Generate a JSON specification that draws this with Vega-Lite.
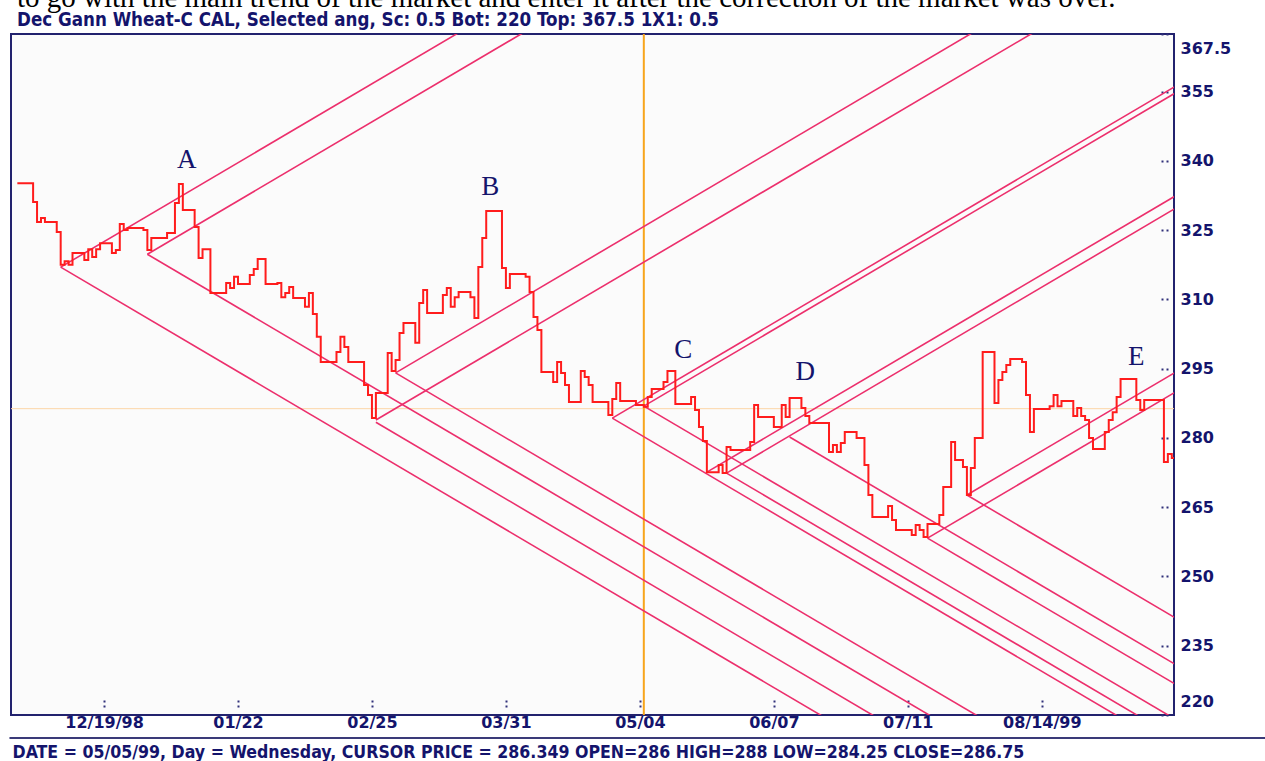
{
  "$schema": "https://vega.github.io/schema/vega-lite/v6.json",
  "width": 1163,
  "height": 681,
  "autosize": {"type": "none"},
  "padding": {"left": 11, "top": 34, "right": 91, "bottom": 46},
  "background": "#ffffff",
  "config": {
    "view": {"fill": "#fbfbfb", "stroke": "#22226e", "strokeWidth": 2}
  },
  "title": {
    "text": "to go with the main trend of the market and enter it after the correction of the market was over.",
    "subtitle": "Dec Gann Wheat-C CAL, Selected ang, Sc: 0.5 Bot: 220 Top: 367.5 1X1: 0.5",
    "anchor": "start",
    "frame": "group",
    "orient": "top",
    "font": "Liberation Serif",
    "fontSize": 29,
    "fontWeight": "normal",
    "color": "#000000",
    "subtitleFont": "Liberation Sans Narrow, DejaVu Sans Condensed, sans-serif",
    "subtitleFontSize": 18.6,
    "subtitleFontWeight": "bold",
    "subtitleColor": "#14146c",
    "subtitlePadding": -2,
    "offset": 3,
    "dx": 6
  },
  "datasets": {
    "price": [
      {"date":"1998-11-27","price":335.2},{"date":"1998-12-01","price":331.1},{"date":"1998-12-02","price":326.8},{"date":"1998-12-03","price":327.65},{"date":"1998-12-04","price":326.8},{"date":"1998-12-07","price":324.6},{"date":"1998-12-08","price":317.5},{"date":"1998-12-09","price":318.3},{"date":"1998-12-10","price":317.5},{"date":"1998-12-11","price":320.05},{"date":"1998-12-14","price":318.55},{"date":"1998-12-15","price":320.9},{"date":"1998-12-16","price":319.2},{"date":"1998-12-17","price":320.9},{"date":"1998-12-18","price":322.2},{"date":"1998-12-21","price":320.05},{"date":"1998-12-22","price":320.7},{"date":"1998-12-23","price":326.35},{"date":"1998-12-24","price":325.05},{"date":"1998-12-25","price":325.5},{"date":"1998-12-29","price":325.05},{"date":"1998-12-30","price":320.7},{"date":"1998-12-31","price":323.3},
      {"date":"1999-01-04","price":324.4},{"date":"1999-01-06","price":330.9},{"date":"1999-01-07","price":335.0},{"date":"1999-01-08","price":329.4},{"date":"1999-01-11","price":325.7},{"date":"1999-01-12","price":319.0},{"date":"1999-01-13","price":320.9},{"date":"1999-01-15","price":311.4},{"date":"1999-01-19","price":313.55},{"date":"1999-01-20","price":312.5},{"date":"1999-01-21","price":314.9},{"date":"1999-01-22","price":313.35},{"date":"1999-01-25","price":315.3},{"date":"1999-01-26","price":316.6},{"date":"1999-01-27","price":318.75},{"date":"1999-01-29","price":313.35},
      {"date":"1999-02-01","price":313.55},{"date":"1999-02-02","price":310.5},{"date":"1999-02-03","price":311.4},{"date":"1999-02-04","price":312.7},{"date":"1999-02-05","price":310.3},{"date":"1999-02-08","price":308.4},{"date":"1999-02-09","price":311.4},{"date":"1999-02-10","price":306.85},{"date":"1999-02-11","price":301.9},{"date":"1999-02-12","price":296.45},{"date":"1999-02-16","price":298.6},{"date":"1999-02-17","price":301.9},{"date":"1999-02-18","price":299.7},{"date":"1999-02-19","price":296.45},{"date":"1999-02-23","price":291.5},{"date":"1999-02-24","price":289.3},{"date":"1999-02-25","price":284.35},{"date":"1999-02-26","price":289.75},
      {"date":"1999-03-01","price":298.4},{"date":"1999-03-02","price":294.5},{"date":"1999-03-03","price":296.9},{"date":"1999-03-04","price":302.75},{"date":"1999-03-05","price":304.9},{"date":"1999-03-08","price":300.6},{"date":"1999-03-09","price":309.25},{"date":"1999-03-10","price":312.05},{"date":"1999-03-11","price":307.05},{"date":"1999-03-15","price":310.95},{"date":"1999-03-16","price":312.5},{"date":"1999-03-17","price":308.4},{"date":"1999-03-18","price":310.5},{"date":"1999-03-19","price":311.6},{"date":"1999-03-22","price":310.5},{"date":"1999-03-23","price":306.0},{"date":"1999-03-24","price":317.05},{"date":"1999-03-25","price":323.3},{"date":"1999-03-26","price":329.15},{"date":"1999-03-30","price":316.8},{"date":"1999-03-31","price":312.5},
      {"date":"1999-04-01","price":315.5},{"date":"1999-04-05","price":314.9},{"date":"1999-04-06","price":311.6},{"date":"1999-04-07","price":306.2},{"date":"1999-04-08","price":303.4},{"date":"1999-04-09","price":294.3},{"date":"1999-04-12","price":292.1},{"date":"1999-04-13","price":296.45},{"date":"1999-04-14","price":294.1},{"date":"1999-04-15","price":291.5},{"date":"1999-04-16","price":287.8},{"date":"1999-04-19","price":294.5},{"date":"1999-04-20","price":293.2},{"date":"1999-04-21","price":291.5},{"date":"1999-04-22","price":287.8},{"date":"1999-04-26","price":285.0},{"date":"1999-04-27","price":288.45},{"date":"1999-04-28","price":291.9},{"date":"1999-04-29","price":288.0},
      {"date":"1999-05-03","price":287.15},{"date":"1999-05-05","price":286.75},{"date":"1999-05-06","price":288.9},{"date":"1999-05-07","price":290.6},{"date":"1999-05-10","price":292.1},{"date":"1999-05-11","price":294.5},{"date":"1999-05-13","price":287.35},{"date":"1999-05-17","price":288.9},{"date":"1999-05-18","price":286.05},{"date":"1999-05-19","price":282.4},{"date":"1999-05-20","price":279.35},{"date":"1999-05-21","price":272.6},{"date":"1999-05-24","price":274.15},{"date":"1999-05-25","price":272.4},{"date":"1999-05-26","price":278.05},{"date":"1999-05-27","price":277.4},
      {"date":"1999-06-01","price":279.15},{"date":"1999-06-02","price":287.15},{"date":"1999-06-03","price":284.55},{"date":"1999-06-07","price":282.4},{"date":"1999-06-09","price":287.15},{"date":"1999-06-10","price":284.55},{"date":"1999-06-11","price":288.65},{"date":"1999-06-14","price":286.5},{"date":"1999-06-15","price":284.75},{"date":"1999-06-16","price":283.25},{"date":"1999-06-21","price":276.95},{"date":"1999-06-22","price":278.5},{"date":"1999-06-23","price":276.95},{"date":"1999-06-24","price":278.9},{"date":"1999-06-25","price":281.3},{"date":"1999-06-28","price":280.0},{"date":"1999-06-30","price":274.15},
      {"date":"1999-07-01","price":267.65},{"date":"1999-07-02","price":262.9},{"date":"1999-07-06","price":265.25},{"date":"1999-07-07","price":262.25},{"date":"1999-07-08","price":260.05},{"date":"1999-07-12","price":259.0},{"date":"1999-07-13","price":261.15},{"date":"1999-07-14","price":260.05},{"date":"1999-07-15","price":258.55},{"date":"1999-07-16","price":261.35},{"date":"1999-07-19","price":263.3},{"date":"1999-07-20","price":269.4},{"date":"1999-07-22","price":279.15},{"date":"1999-07-23","price":275.25},{"date":"1999-07-25","price":273.7},{"date":"1999-07-26","price":267.65},{"date":"1999-07-27","price":273.5},{"date":"1999-07-28","price":280.0},{"date":"1999-07-30","price":298.6},
      {"date":"1999-08-02","price":287.6},{"date":"1999-08-03","price":292.55},{"date":"1999-08-04","price":294.3},{"date":"1999-08-05","price":295.8},{"date":"1999-08-06","price":297.1},{"date":"1999-08-09","price":296.45},{"date":"1999-08-10","price":289.3},{"date":"1999-08-11","price":281.3},{"date":"1999-08-12","price":286.3},{"date":"1999-08-16","price":286.9},{"date":"1999-08-17","price":289.3},{"date":"1999-08-18","price":286.9},{"date":"1999-08-19","price":288.0},{"date":"1999-08-22","price":284.75},{"date":"1999-08-23","price":286.5},{"date":"1999-08-24","price":284.75},{"date":"1999-08-25","price":283.9},{"date":"1999-08-26","price":280.0},{"date":"1999-08-27","price":277.6},{"date":"1999-08-30","price":281.3},{"date":"1999-08-31","price":283.9},
      {"date":"1999-09-01","price":285.6},{"date":"1999-09-02","price":288.9},{"date":"1999-09-03","price":292.8},{"date":"1999-09-07","price":288.2},{"date":"1999-09-08","price":286.05},{"date":"1999-09-09","price":288.2},{"date":"1999-09-14","price":274.8},{"date":"1999-09-15","price":276.55},{"date":"1999-09-16","price":275.65},{"date":"1999-09-17","price":275.65}
    ],
    "gann": [
      {"line":"U1","date":"1998-12-08","price":317.0},{"line":"U1","date":"1999-03-27","price":371.8},
      {"line":"L1","date":"1998-12-08","price":317.0},{"line":"L1","date":"1999-06-21","price":218.9},
      {"line":"U2","date":"1998-12-30","price":319.8},{"line":"U2","date":"1999-04-13","price":372.1},
      {"line":"L2","date":"1998-12-30","price":319.8},{"line":"L2","date":"1999-07-18","price":219.2},
      {"line":"U3","date":"1999-02-26","price":283.9},{"line":"U3","date":"1999-08-21","price":372.4},
      {"line":"L3","date":"1999-02-26","price":283.4},{"line":"L3","date":"1999-07-06","price":218.0},
      {"line":"U4","date":"1999-03-03","price":294.1},{"line":"U4","date":"1999-08-06","price":372.6},
      {"line":"L4","date":"1999-03-03","price":294.1},{"line":"L4","date":"1999-07-31","price":218.65},
      {"line":"U5","date":"1999-04-27","price":284.3},{"line":"U5","date":"1999-09-24","price":359.75},
      {"line":"L5","date":"1999-04-27","price":284.3},{"line":"L5","date":"1999-09-04","price":218.9},
      {"line":"U6","date":"1999-05-05","price":286.9},{"line":"U6","date":"1999-09-24","price":358.3},
      {"line":"L6","date":"1999-05-05","price":286.9},{"line":"L6","date":"1999-09-24","price":215.5},
      {"line":"U7","date":"1999-05-26","price":272.4},{"line":"U7","date":"1999-09-24","price":333.3},
      {"line":"U7b","date":"1999-05-21","price":272.6},{"line":"U7b","date":"1999-09-24","price":336.0},
      {"line":"L7","date":"1999-05-26","price":272.4},{"line":"L7","date":"1999-09-24","price":211.5},
      {"line":"U8","date":"1999-07-16","price":258.3},{"line":"U8","date":"1999-09-24","price":293.5},
      {"line":"L8","date":"1999-07-16","price":258.3},{"line":"L8","date":"1999-09-24","price":223.1},
      {"line":"U9","date":"1999-07-26","price":267.65},{"line":"U9","date":"1999-09-24","price":297.8},
      {"line":"L9","date":"1999-07-26","price":267.65},{"line":"L9","date":"1999-09-24","price":237.45},
      {"line":"L10","date":"1999-06-11","price":280.2},{"line":"L10","date":"1999-09-24","price":227.4}
    ],
    "labels": [
      {"label":"A","date":"1999-01-09","price":340.2},
      {"label":"B","date":"1999-03-27","price":334.4},
      {"label":"C","date":"1999-05-15","price":299.05},
      {"label":"D","date":"1999-06-15","price":294.3},
      {"label":"E","date":"1999-09-07","price":297.55}
    ],
    "cursorDate": [{"date":"1999-05-05","price":220,"price2":367.5}],
    "cursorPrice": [{"date":"1998-11-25","date2":"1999-09-17","price":286.349}],
    "statusBar": [{"date":"1998-11-25","date2":"1999-10-12","price":215.0}]
  },
  "encoding": {
    "x": {
      "field": "date",
      "type": "temporal",
      "scale": {"type": "utc", "domain": [{"year": 1998, "month": 11, "date": 25, "hours": 9, "minutes": 22, "utc": true}, {"year": 1999, "month": 9, "date": 16, "hours": 13, "minutes": 26, "utc": true}]},
      "axis": {
        "values": [
          {"year": 1998, "month": 12, "date": 19, "utc": true},
          {"year": 1999, "month": 1, "date": 22, "utc": true},
          {"year": 1999, "month": 2, "date": 25, "utc": true},
          {"year": 1999, "month": 3, "date": 31, "utc": true},
          {"year": 1999, "month": 5, "date": 4, "utc": true},
          {"year": 1999, "month": 6, "date": 7, "utc": true},
          {"year": 1999, "month": 7, "date": 11, "utc": true},
          {"year": 1999, "month": 8, "date": 14, "utc": true}
        ],
        "labelExpr": "utcFormat(datum.value, '%m/%d') + (utcFormat(datum.value, '%m%d') == '1219' ? '/98' : (utcFormat(datum.value, '%m%d') == '0814' ? '/99' : ''))",
        "labelFont": "DejaVu Sans",
        "labelFontWeight": "bold",
        "labelFontSize": 16,
        "labelColor": "#14146c",
        "labelPadding": 17,
        "labelFlush": false,
        "labelOverlap": false,
        "tickSize": -18,
        "tickDash": [0, 8, 2, 3, 2, 30],
        "tickWidth": 2,
        "tickColor": "#30307a",
        "domain": false,
        "grid": false,
        "title": "DATE = 05/05/99, Day = Wednesday, CURSOR PRICE = 286.349 OPEN=286 HIGH=288 LOW=284.25 CLOSE=286.75",
        "titleFont": "Liberation Sans Narrow, DejaVu Sans Condensed, sans-serif",
        "titleFontSize": 17.6,
        "titleFontWeight": "bold",
        "titleColor": "#14146c",
        "titleAnchor": "start",
        "titleAlign": "left",
        "titleBaseline": "alphabetic",
        "titleX": 1,
        "titleY": 42
      }
    },
    "y": {
      "field": "price",
      "type": "quantitative",
      "scale": {"domain": [220, 367.5], "nice": false, "zero": false},
      "axis": {
        "orient": "right",
        "values": [220, 235, 250, 265, 280, 295, 310, 325, 340, 355, 367.5],
        "labelExpr": "'' + datum.value",
        "labelFont": "DejaVu Sans",
        "labelFontWeight": "bold",
        "labelFontSize": 16,
        "labelColor": "#14146c",
        "labelPadding": 20,
        "labelFlush": true,
        "labelFlushOffset": -6,
        "labelOverlap": false,
        "tickSize": -14,
        "tickDash": [0, 6, 2, 3, 2, 30],
        "tickWidth": 2,
        "tickColor": "#30307a",
        "domain": false,
        "grid": false,
        "title": null
      }
    }
  },
  "layer": [
    {
      "data": {"name": "statusBar"},
      "mark": {"type": "rule", "color": "#3a3a78", "strokeWidth": 2, "clip": false},
      "encoding": {"x2": {"field": "date2"}}
    },
    {
      "data": {"name": "cursorPrice"},
      "mark": {"type": "rule", "color": "#fcd6a8", "strokeWidth": 1, "clip": true},
      "encoding": {"x2": {"field": "date2"}}
    },
    {
      "data": {"name": "cursorDate"},
      "mark": {"type": "rule", "color": "#f7a51c", "strokeWidth": 2, "clip": true},
      "encoding": {"y2": {"field": "price2"}}
    },
    {
      "data": {"name": "gann"},
      "mark": {"type": "line", "color": "#ec2f6c", "strokeWidth": 1.6, "clip": true},
      "encoding": {"detail": {"field": "line"}}
    },
    {
      "data": {"name": "price"},
      "mark": {"type": "line", "interpolate": "step-after", "color": "#ff1c1c", "strokeWidth": 2, "clip": true},
      "encoding": {}
    },
    {
      "data": {"name": "labels"},
      "mark": {"type": "text", "font": "Liberation Serif", "fontSize": 27, "color": "#14146c", "align": "center", "baseline": "middle"},
      "encoding": {"text": {"field": "label"}}
    }
  ]
}
